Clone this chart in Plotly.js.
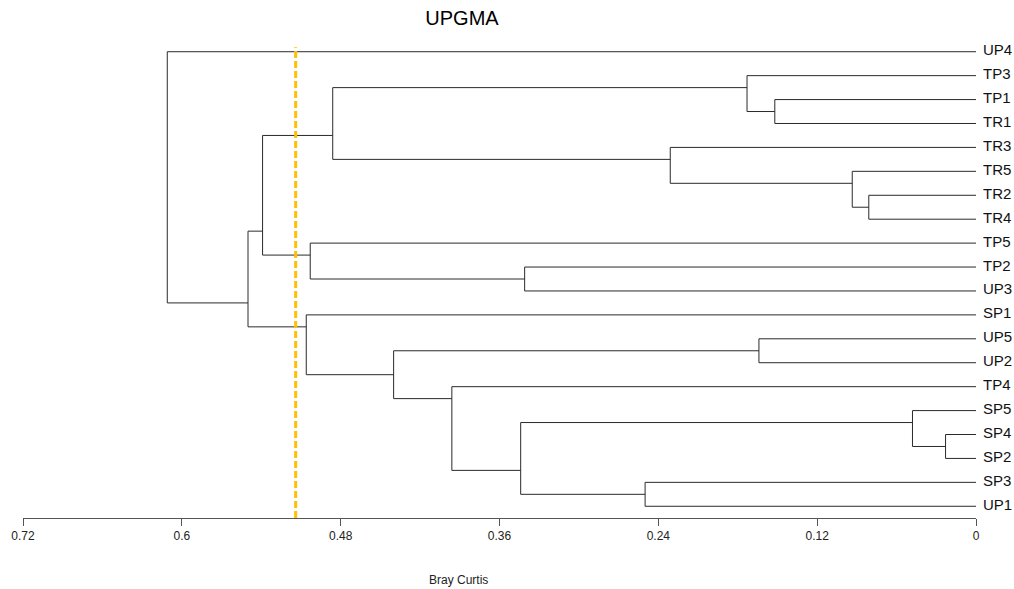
<!DOCTYPE html>
<html>
<head>
<meta charset="utf-8">
<script src="https://cdn.plot.ly/plotly-3.0.1.min.js"></script>
<style>html,body{margin:0;padding:0;background:#fff;}#chart{width:1014px;height:589px;}</style>
</head>
<body>
<div id="chart"></div>
<script>
// Leaf order, top to bottom
const leaves = ['UP4','TP3','TP1','TR1','TR3','TR5','TR2','TR4','TP5','TP2','UP3','SP1','UP5','UP2','TP4','SP5','SP4','SP2','SP3','UP1'];
// Merges (UPGMA, Bray-Curtis distance): left child, right child, height
const mergeLeft   = ['TP1','TP3','TR2','TR5','TR3','n2','TP2','TP5','n6','UP5','SP4','SP5','SP3','n12','TP4','n10','SP1','n9','UP4'];
const mergeRight  = ['TR1','n1','TR4','n3','n4','n5','UP3','n7','n8','UP2','SP2','n11','UP1','n13','n14','n15','n16','n17','n18'];
const mergeHeight = [0.152,0.173,0.081,0.0935,0.231,0.486,0.341,0.503,0.539,0.164,0.023,0.048,0.250,0.344,0.396,0.440,0.506,0.550,0.611];
const cutLevel = 0.514;
const tickVals = [0.72,0.6,0.48,0.36,0.24,0.12,0];
const tickText = ['0.72','0.6','0.48','0.36','0.24','0.12','0'];

// Build node info
const nodes = {};
leaves.forEach((l,i)=>{ nodes[l] = {y:i, h:0, first:i, last:i}; });
mergeLeft.forEach((a,k)=>{
  const b = mergeRight[k];
  const A = nodes[a], B = nodes[b];
  nodes['n'+(k+1)] = {
    y: (A.last + B.first)/2,
    h: mergeHeight[k],
    first: Math.min(A.first,B.first),
    last: Math.max(A.last,B.last)
  };
});
const xs = [], ys = [];
mergeLeft.forEach((a,k)=>{
  const n = nodes['n'+(k+1)], A = nodes[a], B = nodes[mergeRight[k]];
  xs.push(n.h, n.h, null); ys.push(A.y, B.y, null);
  xs.push(A.h, n.h, null); ys.push(A.y, A.y, null);
  xs.push(B.h, n.h, null); ys.push(B.y, B.y, null);
});

const trace = {
  x: xs, y: ys, type: 'scatter', mode: 'lines',
  line: {color: '#2a2a2a', width: 1},
  hoverinfo: 'skip', showlegend: false
};

const leafAnnotations = leaves.map((l,i)=>({
  text: l, showarrow: false, xref: 'x', yref: 'y', x: 0, y: i,
  xanchor: 'left', yanchor: 'middle', xshift: 5, yshift: 2,
  font: {family: 'Liberation Sans, Arial, sans-serif', size: 15, color: '#111'}
}));

const layout = {
  width: 1014, height: 589,
  margin: {l: 23, r: 38, t: 40, b: 71},
  paper_bgcolor: '#fff', plot_bgcolor: '#fff',
  title: {
    text: 'UPGMA',
    font: {family: 'Liberation Sans, Arial, sans-serif', size: 20, color: '#000'},
    xref: 'container', x: 462/1014, xanchor: 'center',
    yref: 'container', y: 1 - 18/589, yanchor: 'middle'
  },
  xaxis: {
    range: [0.72, 0], autorange: false,
    tickvals: tickVals, ticktext: tickText,
    showgrid: false, zeroline: false,
    showline: true, linecolor: '#555', linewidth: 1,
    ticks: 'outside', ticklen: 7, tickcolor: '#555', tickwidth: 1,
    tickfont: {family: 'Liberation Sans, Arial, sans-serif', size: 12, color: '#222'},
    fixedrange: true
  },
  yaxis: {
    range: [19.49, -0.49], autorange: false,
    showticklabels: false,
    showgrid: false, zeroline: false, showline: false, ticks: '',
    fixedrange: true
  },
  shapes: [{
    type: 'line', xref: 'x', yref: 'paper',
    x0: cutLevel, x1: cutLevel, y0: 0, y1: 0.985,
    line: {color: '#FFC000', width: 3, dash: '7px,3px'},
    layer: 'above'
  }],
  annotations: leafAnnotations.concat([{
    text: 'Bray Curtis', showarrow: false,
    xref: 'paper', yref: 'paper',
    x: (458-23)/953, y: -(580-518)/478,
    xanchor: 'center', yanchor: 'middle',
    font: {family: 'Liberation Sans, Arial, sans-serif', size: 12, color: '#222'}
  }])
};

Plotly.newPlot('chart', [trace], layout, {displayModeBar: false, staticPlot: true});
</script>
</body>
</html>
